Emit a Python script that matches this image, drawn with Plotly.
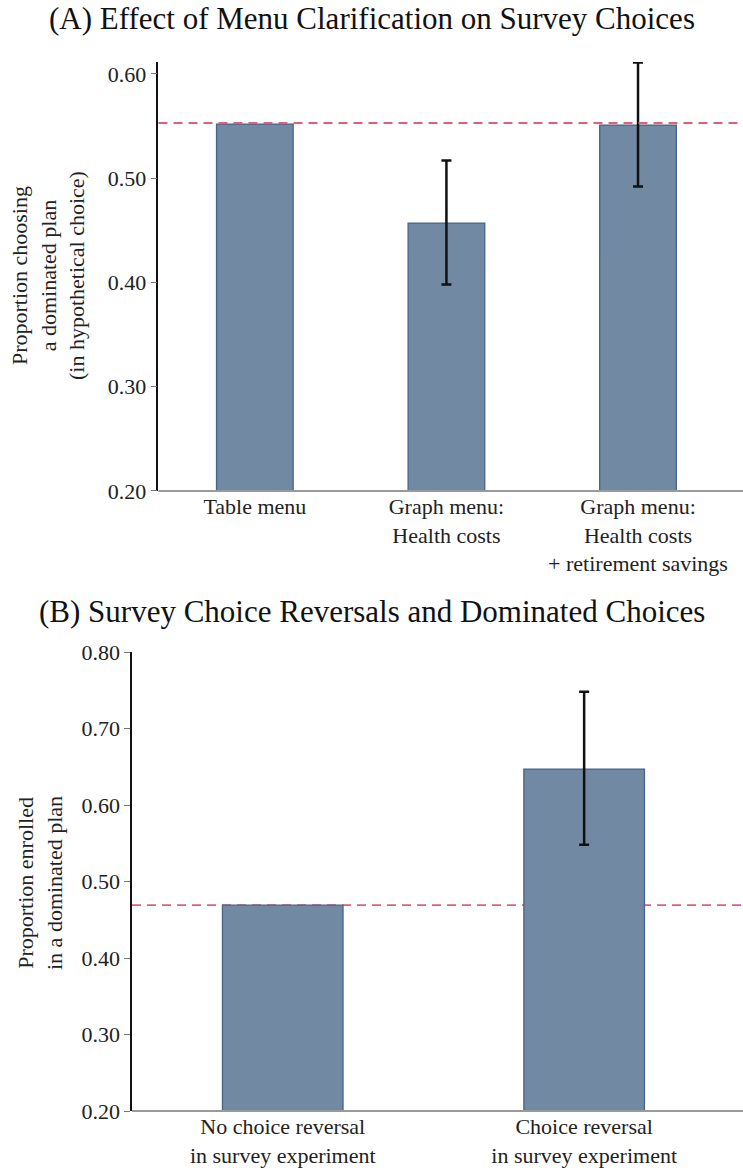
import plotly.graph_objects as go

# Panel A data
cats_A = ["Table menu", "Graph menu:<br>Health costs", "Graph menu:<br>Health costs<br>+ retirement savings"]
vals_A = [0.552, 0.457, 0.551]
err_hi_A = [None, 0.517, 0.611]
err_lo_A = [None, 0.398, 0.492]
ref_A = 0.553

# Panel B data
cats_B = ["No choice reversal<br>in survey experiment", "Choice reversal<br>in survey experiment"]
vals_B = [0.469, 0.647]
err_hi_B = [None, 0.748]
err_lo_B = [None, 0.548]
ref_B = 0.469

ticks_A = [0.20, 0.30, 0.40, 0.50, 0.60]
ticks_B = [0.20, 0.30, 0.40, 0.50, 0.60, 0.70, 0.80]

BAR = "#7189a3"
EDGE = "#46638a"
SERIF = "Liberation Serif"
YTICKFONT = dict(family=SERIF, size=22, color="#222")
XTICKFONT = dict(family=SERIF, size=22, color="#222")
TITLEFONT = dict(family=SERIF, size=31, color="#111")
AXTITLEFONT = dict(family=SERIF, size=22, color="#222")

fig = go.Figure()


def err_arrays(vals, hi, lo):
    plus = [None if h is None else h - v for v, h in zip(vals, hi)]
    minus = [None if l is None else v - l for v, l in zip(vals, lo)]
    return plus, minus


def add_panel(cats, vals, hi, lo, xa, ya):
    xs = list(range(len(cats)))
    plus, minus = err_arrays(vals, hi, lo)
    fig.add_trace(go.Bar(x=xs, y=[v - 0.2 for v in vals], base=0.2, width=0.4,
                         marker=dict(color=BAR, line=dict(color=EDGE, width=1.3)),
                         xaxis=xa, yaxis=ya, showlegend=False, hoverinfo="skip"))
    keep = [i for i, p in enumerate(plus) if p is not None]
    fig.add_trace(go.Scatter(x=[xs[i] for i in keep], y=[vals[i] for i in keep],
                             mode="markers", marker=dict(size=1, color="rgba(0,0,0,0)"),
                             error_y=dict(type="data", symmetric=False,
                                          array=[plus[i] for i in keep],
                                          arrayminus=[minus[i] for i in keep],
                                          color="#111", thickness=2.5, width=5),
                             xaxis=xa, yaxis=ya, showlegend=False, cliponaxis=False))
    return xs


xA = add_panel(cats_A, vals_A, err_hi_A, err_lo_A, "x", "y")
xB = add_panel(cats_B, vals_B, err_hi_B, err_lo_B, "x2", "y2")

# reference dashed lines (control-group mean)
fig.add_shape(type="line", xref="x domain", yref="y", x0=0, x1=1, y0=ref_A, y1=ref_A,
              line=dict(color="#e06078", width=1.8, dash="9px,6px"), layer="above")
fig.add_shape(type="line", xref="x2 domain", yref="y2", x0=0, x1=1, y0=ref_B, y1=ref_B,
              line=dict(color="#e06078", width=1.8, dash="9px,6px"), layer="below")

xaxis_common = dict(showgrid=False, zeroline=False, showline=False, ticks="",
                    tickfont=XTICKFONT, automargin=False, fixedrange=True)
yaxis_common = dict(showgrid=False, zeroline=False, showline=True, linecolor="#111",
                    linewidth=1.5, ticks="outside", ticklen=6, tickcolor="#777",
                    tickwidth=1.2, tickfont=YTICKFONT, automargin=False, fixedrange=True)

fig.update_layout(
    width=743, height=1174,
    margin=dict(l=0, r=0, t=0, b=0, autoexpand=False),
    paper_bgcolor="white", plot_bgcolor="white",
    xaxis=dict(domain=[0.2133, 1.0], anchor="y", range=[-0.503, 2.548],
               tickvals=xA, ticktext=cats_A, **xaxis_common),
    yaxis=dict(domain=[0.58177, 0.94719], anchor="x", range=[0.2, 0.6115],
               tickvals=ticks_A, ticktext=[f"{t:.2f}" for t in ticks_A], **yaxis_common),
    xaxis2=dict(domain=[0.1777, 1.0], anchor="y2", range=[-0.5, 1.527],
                tickvals=xB, ticktext=cats_B, **xaxis_common),
    yaxis2=dict(domain=[0.05366, 0.44463], anchor="x2", range=[0.2, 0.8],
                tickvals=ticks_B, ticktext=[f"{t:.2f}" for t in ticks_B], **yaxis_common),
    annotations=[
        dict(text="(A) Effect of Menu Clarification on Survey Choices", x=0.5, y=1 - 19 / 1174,
             xref="paper", yref="paper", xanchor="center", yanchor="middle",
             showarrow=False, font=TITLEFONT),
        dict(text="(B) Survey Choice Reversals and Dominated Choices", x=0.5, y=1 - 611 / 1174,
             xref="paper", yref="paper", xanchor="center", yanchor="middle",
             showarrow=False, font=TITLEFONT),
        dict(text="Proportion choosing<br>a dominated plan<br>(in hypothetical choice)",
             x=48 / 743, y=1 - 276 / 1174, xref="paper", yref="paper",
             xanchor="center", yanchor="middle", textangle=-90, showarrow=False,
             font=AXTITLEFONT),
        dict(text="Proportion enrolled<br>in a dominated plan",
             x=40 / 743, y=1 - 883 / 1174, xref="paper", yref="paper",
             xanchor="center", yanchor="middle", textangle=-90, showarrow=False,
             font=AXTITLEFONT),
    ],
)

# grey baseline along the x axis (at 0.20)
fig.add_shape(type="line", xref="x domain", yref="y domain", x0=0, x1=1, y0=0, y1=0,
              line=dict(color="#9a9a9a", width=2), layer="above")
fig.add_shape(type="line", xref="x2 domain", yref="y2 domain", x0=0, x1=1, y0=0, y1=0,
              line=dict(color="#9a9a9a", width=2), layer="above")

fig.write_html("out.html")
